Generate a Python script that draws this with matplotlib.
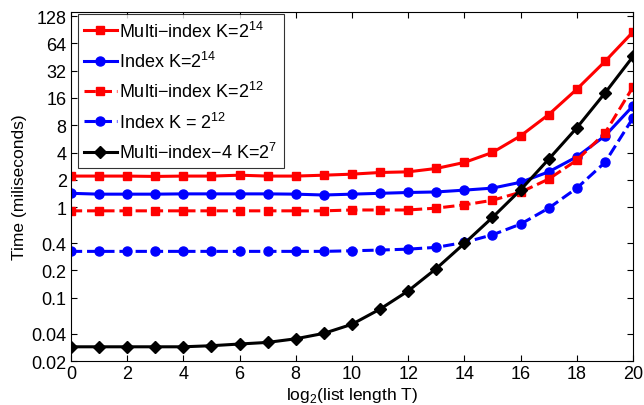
import matplotlib
matplotlib.use('Agg')
import matplotlib.pyplot as plt
import numpy as np

plt.rcParams['font.family'] = ['Liberation Sans', 'DejaVu Sans']
plt.rcParams['mathtext.fontset'] = 'custom'
plt.rcParams['mathtext.rm'] = 'Liberation Sans'

# log2 of list length T
x = np.arange(0, 21)

# time in milliseconds
multi_k14 = [2.2, 2.2, 2.2, 2.18, 2.2, 2.2, 2.25, 2.2, 2.2, 2.25, 2.31,
             2.41, 2.45, 2.67, 3.11, 4.01, 6.11, 10.5, 20.0, 40.4, 85.7]
index_k14 = [1.42, 1.39, 1.39, 1.39, 1.40, 1.40, 1.40, 1.40, 1.39, 1.36, 1.39,
             1.42, 1.45, 1.47, 1.54, 1.62, 1.88, 2.45, 3.59, 6.1, 13.1]
multi_k12 = [0.91, 0.91, 0.91, 0.91, 0.91, 0.91, 0.91, 0.91, 0.91, 0.91, 0.93,
             0.93, 0.93, 0.975, 1.06, 1.19, 1.46, 2.04, 3.3, 6.55, 21.2]
index_k12 = [0.325, 0.325, 0.325, 0.325, 0.325, 0.325, 0.325, 0.325, 0.325, 0.325, 0.33,
             0.336, 0.344, 0.36, 0.408, 0.495, 0.65, 0.975, 1.62, 3.11, 9.65]
multi4_k7 = [0.0288, 0.0288, 0.0288, 0.0288, 0.0288, 0.0296, 0.0309, 0.0322, 0.0353, 0.0405, 0.051,
             0.075, 0.119, 0.21, 0.398, 0.77, 1.55, 3.38, 7.5, 18.1, 45.9]

yticks = [0.02, 0.04, 0.1, 0.2, 0.4, 1, 2, 4, 8, 16, 32, 64, 128]
yticklabels = ['0.02', '0.04', '0.1', '0.2', '0.4', '1', '2', '4', '8', '16', '32', '64', '128']
xticks = list(range(0, 21, 2))

fig = plt.figure(figsize=(6.44, 4.06), dpi=100)
ax = fig.add_axes([0.110, 0.108, 0.873, 0.860])

ax.plot(x, multi_k14, '-s', color='#ff0000', lw=2.2, ms=6, label='Multi\u2212index K=2$^{14}$')
ax.plot(x, index_k14, '-o', color='#0000ff', lw=2.2, ms=6.5, label='Index K=2$^{14}$')
ax.plot(x, multi_k12, '--s', color='#ff0000', lw=2.2, ms=6, label='Multi\u2212index K=2$^{12}$')
ax.plot(x, index_k12, '--o', color='#0000ff', lw=2.2, ms=6.5, label='Index K = 2$^{12}$')
ax.plot(x, multi4_k7, '-D', color='black', lw=2.2, ms=6, label='Multi\u2212index\u22124 K=2$^{7}$')

ax.set_yscale('log')
ax.set_ylim(0.02, 142)
ax.set_xlim(0, 20)
ax.set_yticks(yticks)
ax.set_yticklabels(yticklabels)
ax.minorticks_off()
ax.set_xticks(xticks)
ax.tick_params(direction='in', top=True, right=True, labelsize=13, length=4, width=0.8, pad=3)
for s in ax.spines.values():
    s.set_linewidth(0.8)

ax.set_xlabel('log$_2$(list length T)', fontsize=12.5, labelpad=2)
ax.set_ylabel('Time (miliseconds)', fontsize=12.5, labelpad=3)

leg = ax.legend(loc='upper left', fontsize=13, frameon=True, fancybox=False,
                edgecolor='black', handlelength=1.8, handletextpad=0.15,
                labelspacing=0.57, borderpad=0.35, borderaxespad=0,
                bbox_to_anchor=(0.0125, 0.994))
leg.get_frame().set_linewidth(0.8)

plt.savefig('out.png', dpi=100)
